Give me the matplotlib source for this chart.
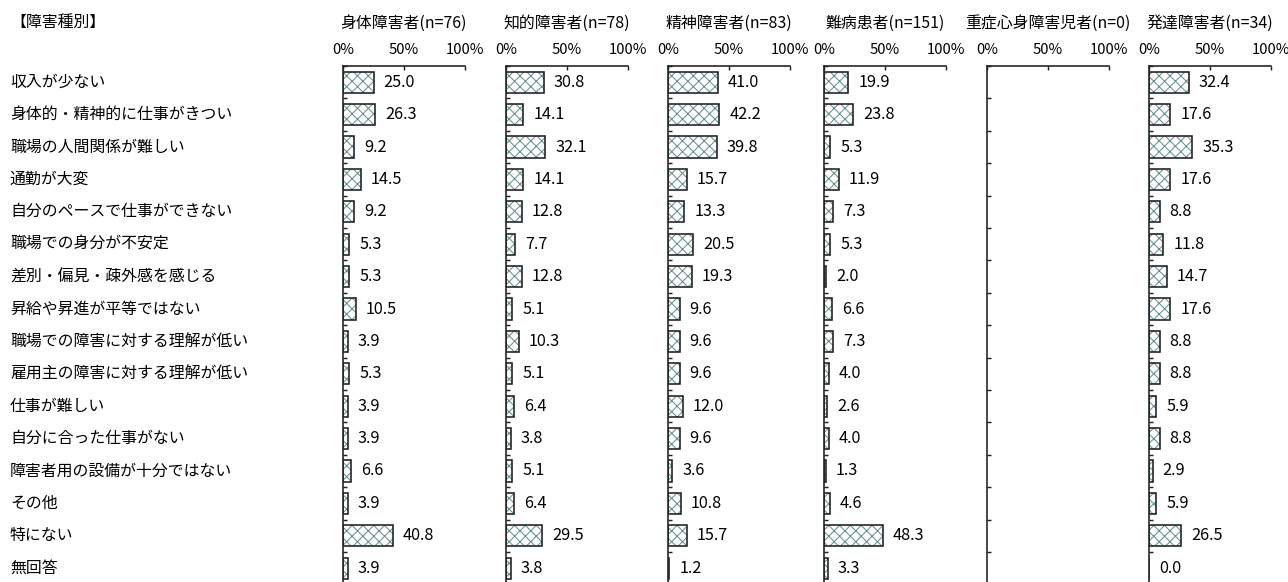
import numpy as np
import matplotlib.pyplot as plt

plt.rcParams['font.family'] = ['Noto Sans CJK JP', 'DejaVu Sans']
plt.rcParams['hatch.linewidth'] = 0.55
plt.rcParams['hatch.color'] = '#5f8e8e'

items = ["収入が少ない", "身体的・精神的に仕事がきつい", "職場の人間関係が難しい", "通勤が大変",
         "自分のペースで仕事ができない", "職場での身分が不安定", "差別・偏見・疎外感を感じる",
         "昇給や昇進が平等ではない", "職場での障害に対する理解が低い", "雇用主の障害に対する理解が低い",
         "仕事が難しい", "自分に合った仕事がない", "障害者用の設備が十分ではない", "その他",
         "特にない", "無回答"]

titles = ["身体障害者(n=76)", "知的障害者(n=78)", "精神障害者(n=83)",
          "難病患者(n=151)", "重症心身障害児者(n=0)", "発達障害者(n=34)"]

shintai = [25.0, 26.3, 9.2, 14.5, 9.2, 5.3, 5.3, 10.5, 3.9, 5.3, 3.9, 3.9, 6.6, 3.9, 40.8, 3.9]
chiteki = [30.8, 14.1, 32.1, 14.1, 12.8, 7.7, 12.8, 5.1, 10.3, 5.1, 6.4, 3.8, 5.1, 6.4, 29.5, 3.8]
seishin = [41.0, 42.2, 39.8, 15.7, 13.3, 20.5, 19.3, 9.6, 9.6, 9.6, 12.0, 9.6, 3.6, 10.8, 15.7, 1.2]
nanbyo = [19.9, 23.8, 5.3, 11.9, 7.3, 5.3, 2.0, 6.6, 7.3, 4.0, 2.6, 4.0, 1.3, 4.6, 48.3, 3.3]
jusho = []
hattatsu = [32.4, 17.6, 35.3, 17.6, 8.8, 11.8, 14.7, 17.6, 8.8, 8.8, 5.9, 8.8, 2.9, 5.9, 26.5, 0.0]

series = [shintai, chiteki, seishin, nanbyo, jusho, hattatsu]

W, H, DPI = 1288, 582, 130
fig = plt.figure(figsize=(W / DPI, H / DPI), dpi=DPI)

lefts = [343, 506, 668, 824, 987, 1149]
pw = 122
top = 66
row = 32.4
n = len(items)
bottom = top + n * row

y = np.arange(n)

for i in range(len(series)):
    ax = fig.add_axes([lefts[i] / W, 1 - bottom / H, pw / W, (bottom - top) / H])
    vals = series[i]
    if len(vals) > 0:
        ax.barh(y, vals, height=0.66, color='white', edgecolor='#5f8e8e', hatch='xxxx', linewidth=0)
        ax.barh(y, vals, height=0.66, fill=False, edgecolor='#222222', linewidth=0.9)
        for j in range(n):
            ax.annotate(f"{vals[j]:.1f}", (vals[j], j), xytext=(5.5, 0), textcoords='offset points',
                        va='center', ha='left', fontsize=9.0)
    ax.set_xlim(0, 100)
    ax.set_ylim(n - 0.5, -0.5)
    ax.spines['right'].set_visible(False)
    ax.spines['bottom'].set_visible(False)
    for s in ['top', 'left']:
        ax.spines[s].set_linewidth(0.9)
        ax.spines[s].set_color('#222222')
    ax.xaxis.tick_top()
    ax.set_xticks([0, 50, 100])
    ax.set_xticklabels(["0%", "50%", "100%"], fontsize=8.2)
    ax.tick_params(axis='x', direction='in', length=2.2, width=0.8, pad=5, colors='#222222',
                   labelcolor='black')
    ax.set_yticks(np.arange(n + 1) - 0.5)
    ax.set_yticklabels([])
    ax.tick_params(axis='y', direction='in', length=2.2, width=0.8, colors='#222222')
    ax.set_title(titles[i], fontsize=8.8, pad=21)

fig.text(10 / W, 1 - 22 / H, "【障害種別】", fontsize=8.8, va='center', ha='left')
for j in range(n):
    fig.text(10 / W, 1 - (top + (j + 0.5) * row) / H, items[j], fontsize=8.8, va='center', ha='left')

fig.savefig("out.png", dpi=DPI)
